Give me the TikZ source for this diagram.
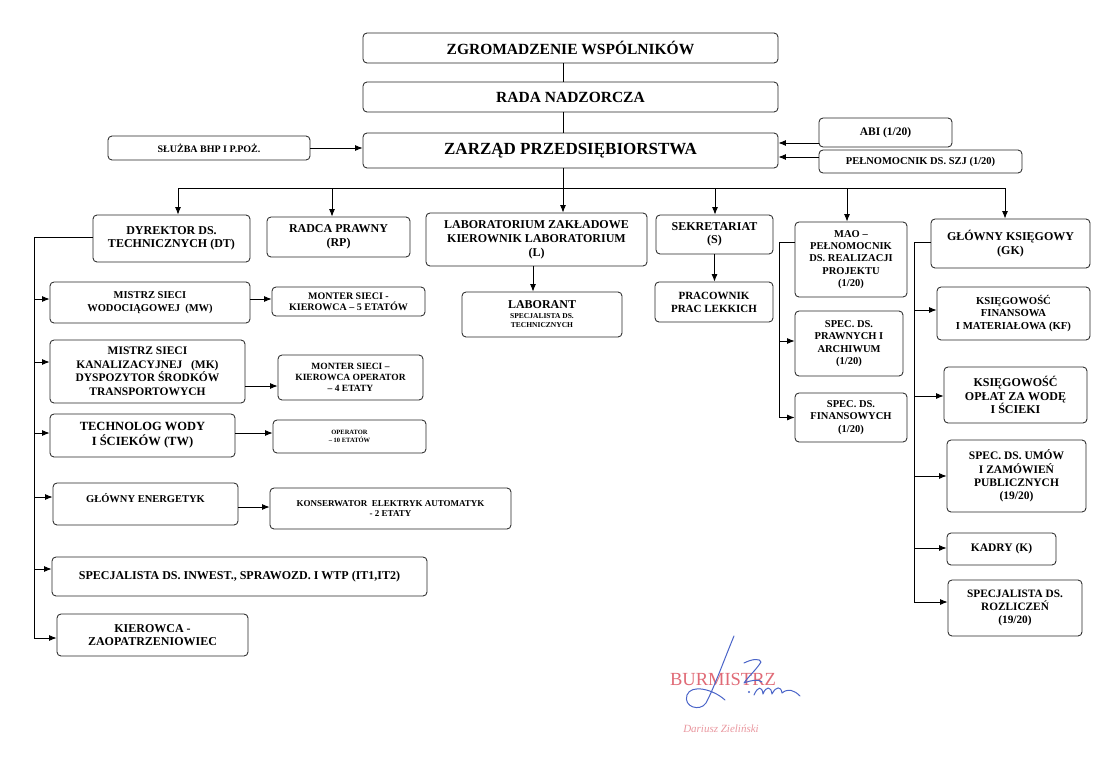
\documentclass[tikz,border=0pt]{standalone}
\usepackage{fontspec}
\setmainfont{Liberation Serif}
\usetikzlibrary{arrows.meta}
\definecolor{sigblue}{HTML}{4A64C8}
\definecolor{burred}{HTML}{E06A76}
\tikzset{
  box/.style={draw=black!85, rounded corners=4pt, align=center, inner sep=1pt},
  wh/.style 2 args={minimum width=#1pt, minimum height=#2pt},
  fnt/.style 2 args={font=\fontsize{#1}{#2}\selectfont\bfseries},
}
\begin{document}
\begin{tikzpicture}[>={Latex[length=7.5pt,width=6pt]},x=1pt,y=-1pt,line width=0.85pt]
\useasboundingbox (0,0) rectangle (1116,776);
% top of the chart
\node[box,wh={415}{30},fnt={15.5}{17}] (zg) at (570.5,48) {ZGROMADZENIE WSPÓLNIKÓW};
\node[box,wh={415}{30},fnt={15.5}{17}] (rada) at (570.5,97) {RADA NADZORCZA};
\node[box,wh={415}{35},fnt={17}{19}] (zarzad) at (570.5,150.5) {ZARZĄD PRZEDSIĘBIORSTWA};
\node[box,wh={202}{24},fnt={10}{12}] (bhp) at (209,148) {SŁUŻBA BHP I P.POŻ.};
\node[box,wh={133}{29},fnt={11.5}{13}] (abi) at (885.5,132.5) {ABI (1/20)};
\node[box,wh={203}{23},fnt={10.5}{12}] (szj) at (920.5,161.5) {PEŁNOMOCNIK DS. SZJ (1/20)};
% second level
\node[box,wh={157}{47},fnt={12}{13.5}] (dt) at (171.5,238.5) {DYREKTOR DS.\\TECHNICZNYCH (DT)};
\node[box,wh={143}{40},fnt={12}{13.5}] (rp) at (338.5,237) {RADCA PRAWNY\\(RP)};
\node[box,wh={221}{53},fnt={12}{14}] (lab) at (536.5,239.5) {LABORATORIUM ZAKŁADOWE\\KIEROWNIK LABORATORIUM\\(L)};
\node[box,wh={117}{39},fnt={12}{13.5}] (sekr) at (714.5,234.5) {SEKRETARIAT\\(S)};
\node[box,wh={112}{75},fnt={10.5}{12.3}] (mao) at (851,259.5) {MAO –\\PEŁNOMOCNIK\\DS. REALIZACJI\\PROJEKTU\\(1/20)};
\node[box,wh={159}{49},fnt={12}{13.5}] (gk) at (1010.5,243.5) {GŁÓWNY KSIĘGOWY\\(GK)};
\node[box,wh={160}{45},fnt={12}{9}] (laborant) at (542,314.5) {LABORANT\\[1pt]\fontsize{7.5}{8}\selectfont SPECJALISTA DS.\\\fontsize{7.5}{8}\selectfont TECHNICZNYCH};
\node[box,wh={118}{40},fnt={11}{13}] (prac) at (714,302) {PRACOWNIK\\PRAC LEKKICH};
% technical branch
\node[box,wh={200}{41},fnt={10.5}{13.3}] (mw) at (150,302.5) {MISTRZ SIECI\\WODOCIĄGOWEJ~~(MW)};
\node[box,wh={153}{29},fnt={10}{11.3}] (mon1) at (348.5,301.5) {MONTER SIECI -\\KIEROWCA – 5 ETATÓW};
\node[box,wh={195}{63},fnt={11.5}{13.5}] (mk) at (147.5,371.5) {MISTRZ SIECI\\KANALIZACYJNEJ~~~(MK)\\DYSPOZYTOR ŚRODKÓW\\TRANSPORTOWYCH};
\node[box,wh={145}{45},fnt={9.5}{11}] (mon2) at (350.5,377.5) {MONTER SIECI –\\KIEROWCA OPERATOR\\– 4 ETATY};
\node[box,wh={185}{43},fnt={12.5}{14.7}] (tw) at (142.5,435.5) {TECHNOLOG WODY\\I ŚCIEKÓW (TW)};
\node[box,wh={153}{33},fnt={6.5}{8}] (oper) at (349.5,436.5) {OPERATOR\\– 10 ETATÓW};
\node[box,wh={185}{42},fnt={10.5}{13}] (ge) at (145.5,504) {GŁÓWNY ENERGETYK\\\mbox{}};
\node[box,wh={241}{41},fnt={9}{10.5}] (kons) at (390.5,508.5) {KONSERWATOR~~ELEKTRYK AUTOMATYK\\- 2 ETATY};
\node[box,wh={375}{39},fnt={12}{14}] (specj) at (239.5,576.5) {SPECJALISTA DS. INWEST., SPRAWOZD. I WTP (IT1,IT2)};
\node[box,wh={191}{42},fnt={12}{13.5}] (kier) at (152.5,635) {KIEROWCA -\\ZAOPATRZENIOWIEC};
% project branch
\node[box,wh={108}{65},fnt={10.5}{12.3}] (sprawn) at (849,343.5) {SPEC. DS.\\PRAWNYCH I\\ARCHIWUM\\(1/20)};
\node[box,wh={112}{49},fnt={10.5}{12.5}] (sfin) at (851,417.5) {SPEC. DS.\\FINANSOWYCH\\(1/20)};
% accounting branch
\node[box,wh={153}{53},fnt={10.7}{12.7}] (kf) at (1013.5,313.5) {KSIĘGOWOŚĆ\\FINANSOWA\\I MATERIAŁOWA (KF)};
\node[box,wh={143}{56},fnt={12}{13.8}] (kow) at (1015.5,395) {KSIĘGOWOŚĆ\\OPŁAT ZA WODĘ\\I ŚCIEKI};
\node[box,wh={139}{72},fnt={11.5}{13.3}] (umow) at (1016.5,476) {SPEC. DS. UMÓW\\I ZAMÓWIEŃ\\PUBLICZNYCH\\(19/20)};
\node[box,wh={109}{32},fnt={11.5}{13}] (kadry) at (1001.5,549) {KADRY (K)};
\node[box,wh={134}{56},fnt={11.3}{13.3}] (rozl) at (1015,608) {SPECJALISTA DS.\\ROZLICZEŃ\\(19/20)};
% trunk and bus
\coordinate (spine) at (563,188);
\coordinate (busL) at (178,188);
\coordinate (busR) at (1005,188);
\draw (zg.south -| spine) -- (rada.north -| spine);
\draw (rada.south -| spine) -- (zarzad.north -| spine);
\draw[->] (zarzad.south -| spine) -- (lab.north -| spine);
\draw (busL) -- (busR);
\foreach \n/\s in {dt/6.5pt,rp/-6.5pt,sekr/0.5pt,mao/-4pt,gk/-5.5pt}
  \draw[<-] ([xshift=\s]\n.north) coordinate (t) -- (t |- busL);
\draw[->] (bhp.east) -- (bhp.east -| zarzad.west);
\draw[<-] ([yshift=7.5pt]zarzad.east) coordinate (t) -- (t -| abi.west);
\draw[<-] ([yshift=-6.5pt]zarzad.east) coordinate (t) -- (t -| szj.west);
\draw[->] ([xshift=-3.5pt]lab.south) coordinate (t) -- (t |- laborant.north);
\draw[->] (sekr.south) -- (sekr.south |- prac.north);
% side rails
\coordinate (dtrail) at (34,638);
\coordinate (maorail) at (779,417);
\coordinate (gkrail) at (914,602);
\draw ([yshift=1.5pt]dt.west) -| (dtrail);
\draw ([yshift=17.5pt]mao.west) -| (maorail);
\draw ([yshift=1.5pt]gk.west) -| (gkrail);
\foreach \n/\s in {mw/3.5pt,mk/9.5pt,tw/2.5pt,ge/7pt,specj/7.5pt,kier/-3pt}
  \draw[<-] ([yshift=\s]\n.west) coordinate (t) -- (t -| dtrail);
\foreach \n/\s in {sprawn/2.5pt,sfin/0pt}
  \draw[<-] ([yshift=\s]\n.west) coordinate (t) -- (t -| maorail);
\foreach \n/\s in {kf/3.5pt,kow/-1pt,umow/0pt,kadry/1pt,rozl/6pt}
  \draw[<-] ([yshift=\s]\n.west) coordinate (t) -- (t -| gkrail);
\foreach \a/\b/\s in {mw/mon1/2.5pt,mk/mon2/-8.5pt,tw/oper/3.5pt,ge/kons/1.5pt}
  \draw[<-] ([yshift=\s]\b.west) coordinate (t) -- (t -| \a.east);
% stamp and signature
\node[font=\fontsize{18.5}{18.5}\selectfont,text=burred] (burm) at (723,679) {BURMISTRZ};
\node[font=\itshape\fontsize{11}{11}\selectfont,text=burred!70] (imie) at (721,729) {Dariusz Zieliński};
\draw[sigblue,line width=1pt,line cap=round,line join=round]
  (734,636) .. controls (724,660) and (714,688) .. (706,703)
  .. controls (700,712) and (683,707) .. (687,695)
  .. controls (691,684) and (713,689) .. (725,700);
\draw[sigblue,line width=1pt,line cap=round,line join=round]
  (744,663) .. controls (752,659) and (760,658) .. (761,662)
  .. controls (756,670) and (748,677) .. (744,683)
  .. controls (752,680) and (758,679) .. (762,682);
\draw[sigblue,line width=1pt,line cap=round,line join=round]
  (754,695) .. controls (758,686) and (762,686) .. (763,694)
  .. controls (766,686) and (771,686) .. (772,694)
  .. controls (776,686) and (781,686) .. (782,693)
  .. controls (788,688) and (794,690) .. (800,696);
\fill[sigblue] (749,692) circle (1.2pt);
\end{tikzpicture}
\end{document}
